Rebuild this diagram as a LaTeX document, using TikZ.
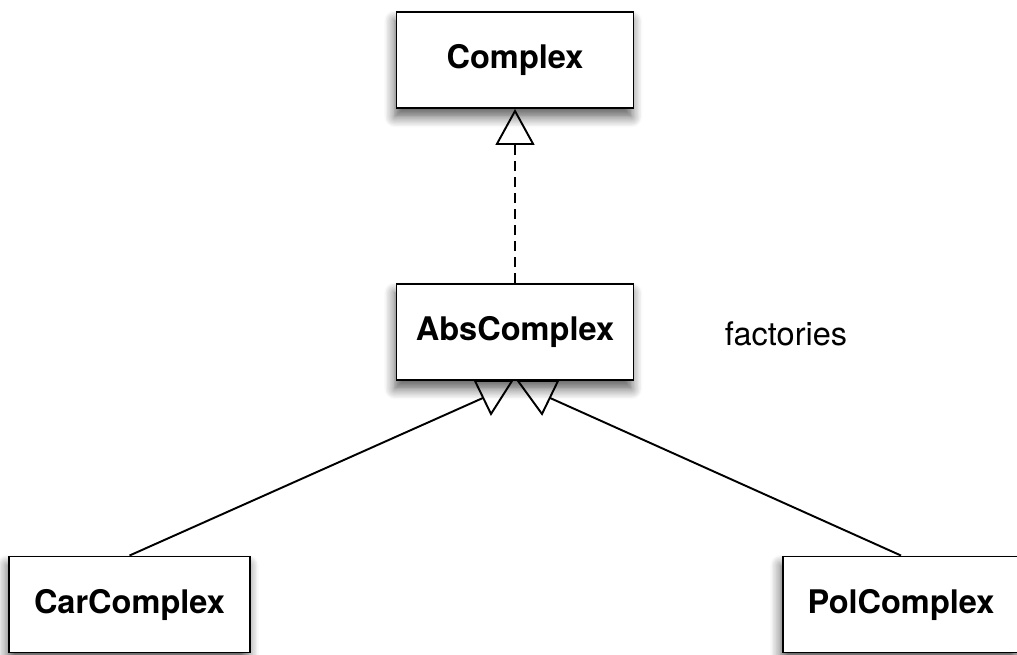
\documentclass[tikz,border=0pt]{standalone}
\usepackage{fontspec}
\setmainfont{TeX Gyre Heros}
\usetikzlibrary{arrows.meta,shadows.blur,calc}

\tikzset{
	cls/.style={draw,line width=1.1pt,fill=white,minimum width=4.74cm,minimum height=1.92cm,
		font=\fontsize{18.5}{22}\selectfont\bfseries,
		blur shadow={shadow xshift=-1pt,shadow yshift=-5pt,shadow blur radius=6pt,shadow blur steps=8,shadow opacity=65}},
	inh/.style={-{Triangle[open,length=0.72cm,width=0.78cm]},line width=1.1pt},
	head/.style={draw,line width=1.1pt,line join=miter},
}

\begin{document}
\begin{tikzpicture}[x=0.02cm,y=-0.02cm]
	\useasboundingbox (0,0) rectangle (1017,655);
	\node[cls] (C) at (515,60) {Complex};
	\node[cls] (A) at (515,332) {AbsComplex};
	\node[cls,minimum width=4.82cm] (R) at (129.5,604.5) {CarComplex};
	\node[cls] (P) at (901,604.5) {PolComplex};
	\node[font=\fontsize{18.5}{22}\selectfont] (F) at (786,334) {factories};
	\draw[inh,dash pattern=on 5.7pt off 3.4pt] (A.north) -- (C.south);
	% the two open heads under AbsComplex
	\draw[head] ($(A.south)+(-40,0)$) -- ($(A.south)+(-3,0)$) -- ($(A.south)+(-24,33)$) -- cycle;
	\draw[head] ($(A.south)+(3,0)$) -- ($(A.south)+(43,0)$) -- ($(A.south)+(27,33)$) -- cycle;
	\coordinate (ra) at ($(A.south)+(-32,17)$);
	\coordinate (pa) at ($(A.south)+(35,17)$);
	\draw[line width=1.1pt] (R.north) -- (ra);
	\draw[line width=1.1pt] (P.north) -- (pa);
\end{tikzpicture}
\end{document}
